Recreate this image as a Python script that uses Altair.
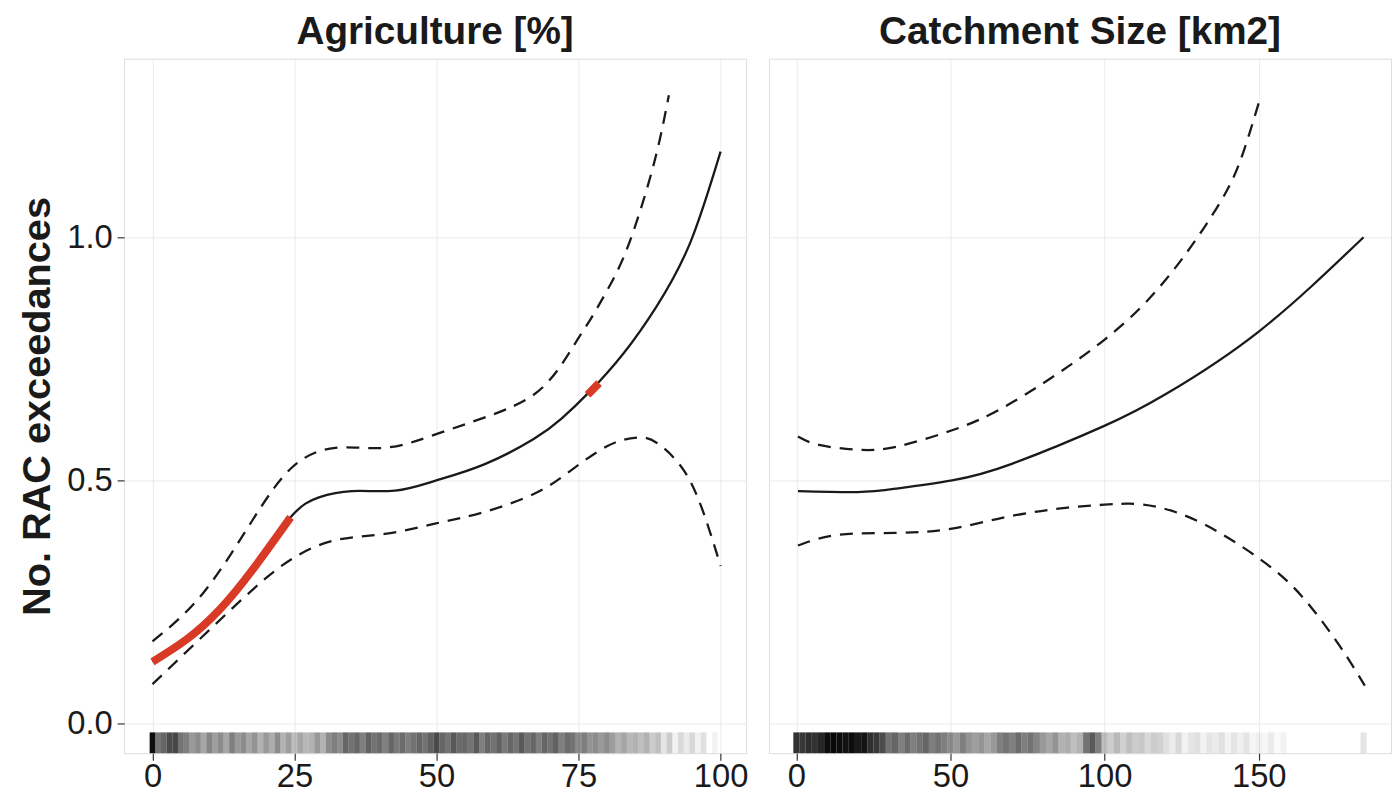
import altair as alt
import pandas as pd

FONT = "Liberation Sans"
INK = "#1a1a1a"
RED = "#d83a26"

# ---------------- Agriculture [%] panel ----------------
agri_fit_x = [0, 6.0, 11.8, 17.6, 24.3, 29.3, 35.1, 42.7, 49.7, 58.4, 67.1, 72.0, 77.0, 82.9, 88.8, 94.7, 100]
agri_fit_y = [0.127, 0.173, 0.234, 0.316, 0.424, 0.465, 0.478, 0.479, 0.499, 0.533, 0.585, 0.627, 0.683, 0.761, 0.859, 0.990, 1.176]

agri_up_x = [0, 8.9, 17.6, 24.6, 32.2, 40.9, 49.7, 58.4, 63.0, 67.1, 71.2, 75.0, 77.1, 80.0, 82.9, 85.9, 88.8, 90.9]
agri_up_y = [0.169, 0.268, 0.418, 0.527, 0.567, 0.567, 0.594, 0.629, 0.650, 0.676, 0.725, 0.793, 0.831, 0.890, 0.958, 1.056, 1.176, 1.292]

agri_lo_x = [0, 8.9, 17.6, 24.6, 32.2, 40.9, 49.7, 58.4, 67.1, 72.9, 80.0, 85.3, 88.8, 93.5, 97.1, 100]
agri_lo_y = [0.081, 0.180, 0.275, 0.339, 0.377, 0.390, 0.411, 0.435, 0.472, 0.514, 0.570, 0.588, 0.577, 0.521, 0.430, 0.324]

# significant (red) stretches of the fitted curve
agri_sig1_x = [0, 6.0, 11.8, 17.6, 24.3]
agri_sig1_y = [0.127, 0.173, 0.234, 0.316, 0.424]
agri_sig2_x = [76.6, 78.6]
agri_sig2_y = [0.676, 0.700]

# rug density (1-unit bins)
agri_rug_x = list(range(0, 100))
agri_rug_shade = [
    0.95, 0.55, 0.60, 0.70, 0.72, 0.55, 0.50, 0.40, 0.45, 0.35,
    0.48, 0.38, 0.45, 0.35, 0.50, 0.40, 0.45, 0.35, 0.42, 0.30,
    0.40, 0.32, 0.45, 0.30, 0.38, 0.25, 0.35, 0.28, 0.30, 0.40,
    0.30, 0.45, 0.50, 0.45, 0.60, 0.55, 0.60, 0.50, 0.62, 0.55,
    0.58, 0.50, 0.60, 0.52, 0.58, 0.50, 0.55, 0.60, 0.55, 0.62,
    0.70, 0.60, 0.55, 0.65, 0.58, 0.60, 0.55, 0.65, 0.50, 0.60,
    0.55, 0.62, 0.52, 0.60, 0.55, 0.65, 0.55, 0.60, 0.50, 0.60,
    0.55, 0.62, 0.50, 0.58, 0.55, 0.45, 0.50, 0.42, 0.45, 0.40,
    0.45, 0.38, 0.30, 0.35, 0.28, 0.30, 0.25, 0.30, 0.20, 0.25,
    0.10, 0.20, 0.05, 0.15, 0.08, 0.15, 0.05, 0.12, 0.00, 0.05,
]

# ---------------- Catchment Size [km2] panel ----------------
catch_fit_x = [0.5, 19.8, 32.3, 50.5, 69.9, 99.9, 120, 150, 184]
catch_fit_y = [0.478, 0.476, 0.483, 0.500, 0.534, 0.612, 0.678, 0.806, 1.000]

catch_up_x = [0.5, 7.3, 19.8, 32.3, 50.5, 69.9, 99.9, 120, 132.5, 140.0, 145, 150.6]
catch_up_y = [0.590, 0.573, 0.563, 0.569, 0.603, 0.660, 0.789, 0.914, 1.022, 1.100, 1.175, 1.289]

catch_lo_x = [0.5, 13.5, 32.3, 50.5, 69.9, 88.0, 99.9, 108.0, 118.0, 132.5, 150, 163.8, 176.3, 184.4]
catch_lo_y = [0.366, 0.388, 0.392, 0.401, 0.427, 0.444, 0.450, 0.452, 0.444, 0.409, 0.340, 0.263, 0.159, 0.078]

# rug density (2-unit bins)
catch_rug_x = list(range(0, 186, 2))
catch_rug_shade = [
    0.80, 0.78, 0.82, 0.80, 0.85,
    0.95, 0.97, 0.95, 0.93, 0.95, 0.90, 0.92,
    0.82, 0.78, 0.70,
    0.55, 0.60, 0.50, 0.58, 0.50, 0.55, 0.60, 0.50, 0.55, 0.50,
    0.45, 0.40, 0.50, 0.42,
    0.38, 0.42, 0.35, 0.40, 0.50,
    0.55, 0.50, 0.58, 0.50, 0.55, 0.48,
    0.40, 0.35, 0.42, 0.30, 0.32,
    0.25, 0.30,
    0.55, 0.65, 0.50,
    0.25, 0.20, 0.28, 0.18, 0.25, 0.20, 0.22, 0.15, 0.20, 0.18,
    0.12, 0.08, 0.15, 0.05, 0.10, 0.12, 0.05, 0.10, 0.08, 0.12, 0.05, 0.10, 0.06, 0.10, 0.04,
    0.06, 0.03, 0.08, 0.02, 0.05,
    0, 0, 0, 0, 0, 0, 0, 0, 0, 0, 0, 0, 0.10,
]

Y_TICKS = [0.0, 0.5, 1.0]
AGRI_TICKS = [0, 25, 50, 75, 100]
CATCH_TICKS = [0, 50, 100, 150]

W, H = 627, 700
RUG_PX = 21
Y_DOMAIN = [-0.061, 1.367]


def lines_df(xs_list, ys_list, names):
    rows = []
    for xs, ys, n in zip(xs_list, ys_list, names):
        for x, y in zip(xs, ys):
            rows.append({"x": x, "y": y, "series": n})
    return pd.DataFrame(rows)


def panel(title, fit, up, lo, sig, rug_x, rug_shade, half_bin, x_domain, x_ticks, show_y):
    xs = alt.Scale(domain=x_domain, nice=False, zero=False)
    ys = alt.Scale(domain=Y_DOMAIN, nice=False, zero=False)
    x_axis = alt.Axis(values=x_ticks, title=None, grid=True, gridColor="#ebebeb",
                      domain=False, tickColor="#333333", tickSize=7, tickWidth=1.2,
                      labelFontSize=33, labelColor=INK, labelPadding=1, labelFont=FONT)
    if show_y:
        y_axis = alt.Axis(values=Y_TICKS, format=".1f", title="No. RAC exceedances",
                          grid=True, gridColor="#ebebeb", domain=False,
                          tickColor="#333333", tickSize=7, tickWidth=1.2,
                          labelFontSize=33, labelColor=INK, labelPadding=5, labelFont=FONT,
                          titleFontSize=40, titleFont=FONT, titleFontWeight="bold",
                          titleColor=INK, titlePadding=9)
    else:
        y_axis = alt.Axis(values=Y_TICKS, title=None, grid=True, gridColor="#ebebeb",
                          domain=False, ticks=False, labels=False)

    rug = alt.Chart(pd.DataFrame({"x": rug_x, "shade": rug_shade})).transform_calculate(
        x0=f"datum.x - {half_bin}", x1=f"datum.x + {half_bin}"
    ).mark_rect(color="black").encode(
        x=alt.X("x0:Q", scale=xs, axis=x_axis),
        x2="x1:Q",
        y=alt.value(H),
        y2=alt.value(H - RUG_PX),
        opacity=alt.Opacity("shade:Q", scale=alt.Scale(domain=[0, 1], range=[0, 1]), legend=None),
    )

    band = alt.Chart(lines_df([up[0], lo[0]], [up[1], lo[1]], ["upper", "lower"])).mark_line(
        color=INK, strokeWidth=2.3, strokeDash=[13, 9], interpolate="natural", clip=True
    ).encode(
        x=alt.X("x:Q", scale=xs, axis=x_axis),
        y=alt.Y("y:Q", scale=ys, axis=y_axis),
        detail="series:N",
    )

    fit_line = alt.Chart(lines_df([fit[0]], [fit[1]], ["fit"])).mark_line(
        color=INK, strokeWidth=2.3, interpolate="natural", clip=True
    ).encode(
        x=alt.X("x:Q", scale=xs),
        y=alt.Y("y:Q", scale=ys),
    )

    layers = [rug, band, fit_line]
    if sig:
        sig_df = lines_df([s[0] for s in sig], [s[1] for s in sig], [f"s{i}" for i in range(len(sig))])
        layers.append(
            alt.Chart(sig_df).mark_line(color=RED, strokeWidth=8, interpolate="natural", strokeCap="butt").encode(
                x=alt.X("x:Q", scale=xs),
                y=alt.Y("y:Q", scale=ys),
                detail="series:N",
            )
        )

    return alt.layer(*layers).properties(
        width=W, height=H,
        title=alt.TitleParams(title, fontSize=39, font=FONT, fontWeight="bold",
                              color=INK, anchor="middle", offset=7),
    )


left = panel("Agriculture [%]",
             (agri_fit_x, agri_fit_y), (agri_up_x, agri_up_y), (agri_lo_x, agri_lo_y),
             [(agri_sig1_x, agri_sig1_y), (agri_sig2_x, agri_sig2_y)],
             agri_rug_x, agri_rug_shade, 0.5, [-5.0, 104.5], AGRI_TICKS, True)

right = panel("Catchment Size [km2]",
              (catch_fit_x, catch_fit_y), (catch_up_x, catch_up_y), (catch_lo_x, catch_lo_y),
              [],
              catch_rug_x, catch_rug_shade, 1.0, [-8.9, 192.9], CATCH_TICKS, False)

chart = alt.hconcat(left, right, spacing=19).resolve_scale(x="independent").properties(
    padding={"left": 9, "top": 1, "right": 0, "bottom": 0}
).configure_view(stroke="#8a8a8a", strokeWidth=1.2).configure(background="white")

chart.save("out.html", embed_options={"renderer": "svg", "actions": False})
